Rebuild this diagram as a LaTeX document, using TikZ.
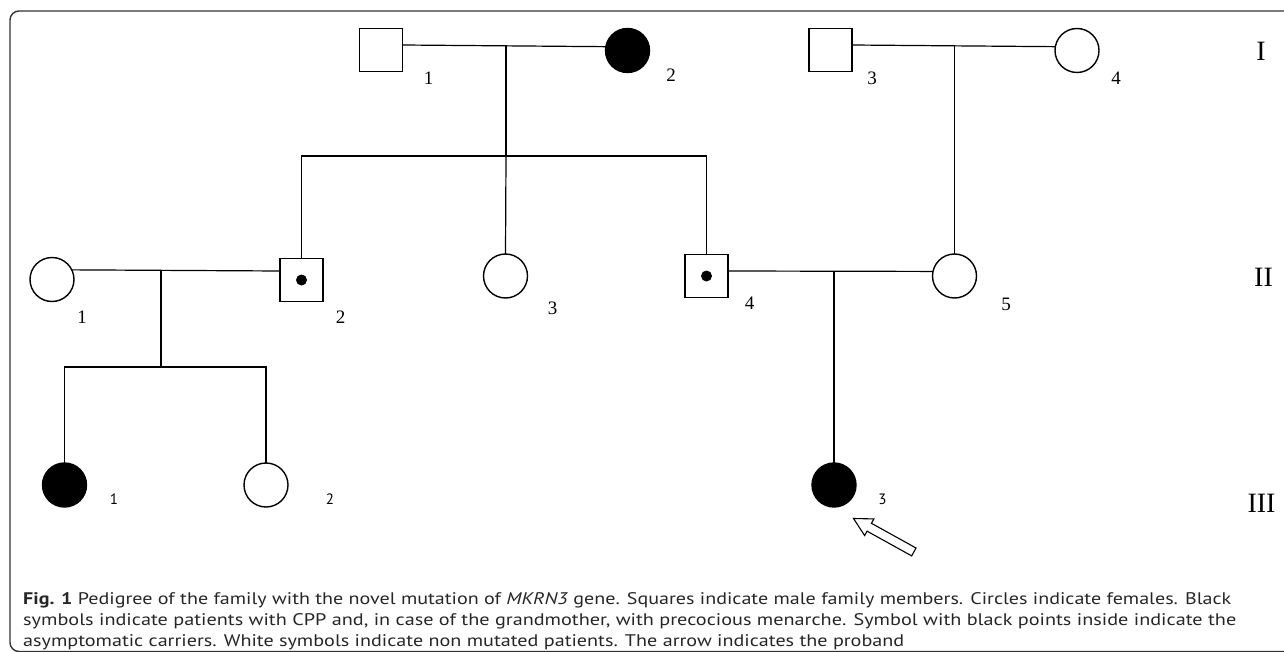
\documentclass[tikz,border=0pt]{standalone}
\usepackage{fontspec}
\setmainfont{Liberation Serif}
\newfontfamily\capfont{PT Sans}
\usepackage{graphicx}
\begin{document}
\begin{tikzpicture}[x=1pt,y=-1pt,
  ind/.style={draw, line width=1.4pt, inner sep=0pt, outer sep=0pt},
  male/.style={ind, rectangle, minimum width=43pt, minimum height=43pt},
  female/.style={ind, circle, minimum size=44pt},
  affected/.style={fill=black},
  link/.style={line width=1.2pt},
  numlab/.style={font=\fontsize{19}{19}\selectfont, anchor=base, inner sep=0pt},
  numsans/.style={font=\capfont\fontsize{15}{15}\selectfont, anchor=base, inner sep=0pt},
  genlab/.style={font=\fontsize{28}{28}\selectfont, anchor=base, inner sep=0pt},
  captxt/.style={font=\capfont\fontsize{16.8}{16.8}\selectfont, anchor=base west, inner sep=0pt, text=black!85}
]
\useasboundingbox (0,0) rectangle (1284,652);
\clip (0,0) rectangle (1284,652);
% frame
\draw[rounded corners=9pt, line width=1.4pt, black!80] (10,11) rectangle (1330,651.5);

% generation I
\node[male] (I1) at (381,50) {};
\node[female, affected] (I2) at (627.5,50.5) {};
\node[male] (I3) at (830.5,50) {};
\node[female] (I4) at (1077,50.5) {};
% generation II
\node[female] (II1) at (52,279.5) {};
\node[male] (II2) at (301.5,280) {};
\node[female] (II3) at (505.5,276) {};
\node[male] (II4) at (706.5,276) {};
\node[female] (II5) at (954.5,276) {};
% generation III
\node[female, affected] (III1) at (64.5,485) {};
\node[female] (III2) at (266,485) {};
\node[female, affected] (III3) at (834,485) {};

% carrier dots
\fill (II2.center) circle[radius=5.5pt];
\fill (II4.center) circle[radius=5.5pt];

% connection points
\coordinate (mI) at (506,45.5);
\coordinate (sI) at (506,156);
\coordinate (mI2) at (954.5,45.5);
\coordinate (mII) at (161,270.7);
\coordinate (sII) at (161,367);
\coordinate (mII2) at (834,270.7);

% connectors
\draw[link] ([yshift=5pt]I1.east) -- (I2.170);
\draw[link] (mI) -- (sI);
\draw[link] (II2.north) |- (II4.north |- sI) -- (II4.north);
\draw[link] (sI) -- (II3.north);
\draw[link] ([yshift=5pt]I3.east) -- (I4.170);
\draw[link] (mI2) -- (II5.north);
\draw[link] (II1.26) -- ([yshift=9pt]II2.west);
\draw[link] (mII) -- (sII);
\draw[link] (III1.north) |- (III2.north |- sII) -- (III2.north);
\draw[link] ([yshift=5pt]II4.east) -- (II5.168);
\draw[link] (mII2) -- (III3.north);

% proband arrow
\begin{scope}[shift={(853.5,518.5)}, rotate=-29]
\draw[line width=1.1pt, fill=white, line join=miter] (0,0) -- (18,9.5) -- (18,4.5) -- (69,4.5) -- (69,-4.5) -- (18,-4.5) -- (18,-9.5) -- cycle;
\end{scope}

% individual numbers
\node[numlab] (lI1) at (428.5,85) {1};
\node[numlab] (lI2) at (671,82) {2};
\node[numlab] (lI3) at (872,85) {3};
\node[numlab] (lI4) at (1116,85) {4};
\node[numlab] (lII1) at (82,323) {1};
\node[numlab] (lII2) at (340.5,323) {2};
\node[numlab] (lII3) at (552.5,314) {3};
\node[numlab] (lII4) at (749.5,309) {4};
\node[numlab] (lII5) at (1006,310) {5};
\node[numsans] (lIII1) at (114,504) {1};
\node[numsans] (lIII2) at (330,504) {2};
\node[numsans] (lIII3) at (882.5,504) {3};

% generation labels
\node[genlab] (gI) at (1261,60.7) {I};
\node[genlab] (gII) at (1263.5,286) {II};
\node[genlab] (gIII) at (1261.5,512) {III};

% caption
\node[captxt] (cap1) at (23,604.3) {\resizebox{1208pt}{\height}{\textbf{Fig. 1} Pedigree of the family with the novel mutation of \textit{MKRN3} gene. Squares indicate male family members. Circles indicate females. Black}};
\node[captxt] (cap2) at (23,625.6) {\resizebox{1213pt}{\height}{symbols indicate patients with CPP and, in case of the grandmother, with precocious menarche. Symbol with black points inside indicate the}};
\node[captxt] (cap3) at (23,646.9) {\resizebox{881pt}{\height}{asymptomatic carriers. White symbols indicate non mutated patients. The arrow indicates the proband}};
\end{tikzpicture}
\end{document}
